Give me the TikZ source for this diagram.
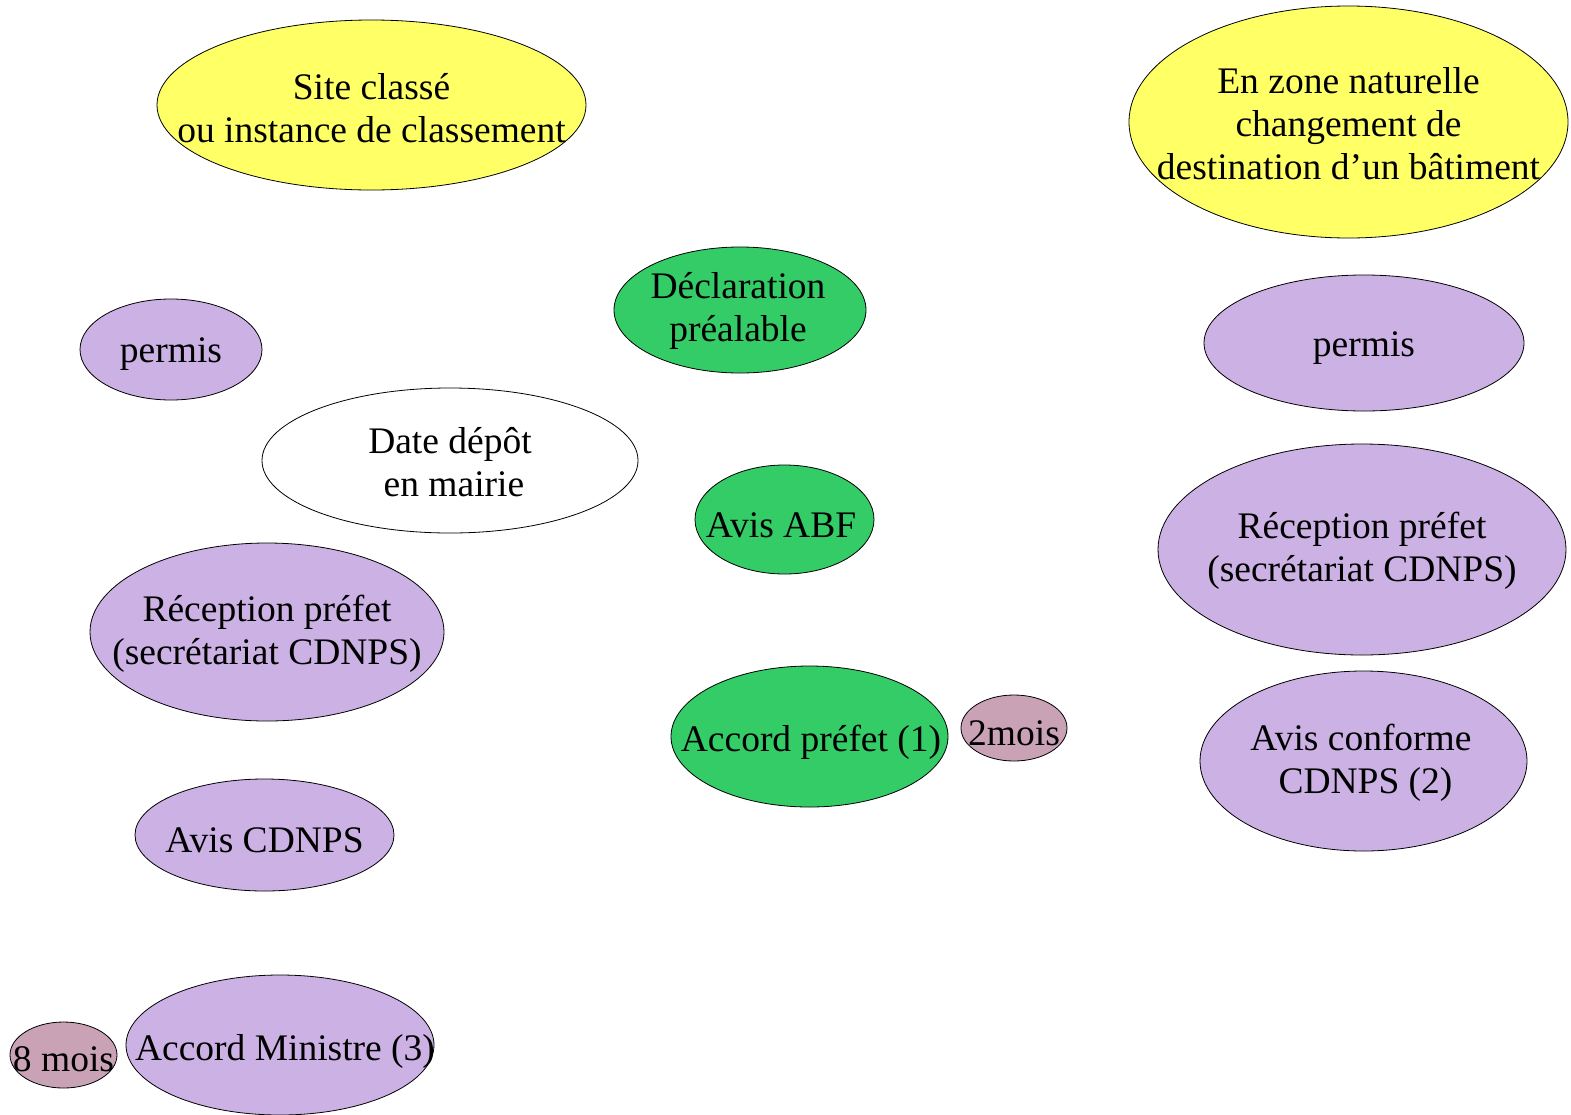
\documentclass[tikz,border=0pt]{standalone}
\usepackage{fontspec}
\setmainfont{Liberation Serif}
\usetikzlibrary{shapes.geometric}
\definecolor{cyel}{HTML}{FFFF66}
\definecolor{clav}{HTML}{CCB2E4}
\definecolor{cgrn}{HTML}{33CC66}
\definecolor{cmau}{HTML}{C9A2B6}
\tikzset{
  oval/.style={shape=ellipse, draw=black, line width=0.8pt, inner sep=0pt},
  txt/.style={align=center, inner sep=0pt, yshift=-4pt, font=\fontsize{37.5}{43}\selectfont},
  mtxt/.style={txt, yshift=4pt},
}
\begin{document}
\begin{tikzpicture}[x=1pt,y=-1pt]
\useasboundingbox (0,0) rectangle (1571,1114);
% ellipses
\node[oval, fill=cyel, minimum width=429, minimum height=170] (site) at (371.5,105) {};
\node[oval, fill=cyel, minimum width=439, minimum height=232] (zone) at (1348.5,122) {};
\node[oval, fill=cgrn, minimum width=252, minimum height=126] (decl) at (740,310) {};
\node[oval, fill=clav, minimum width=182, minimum height=101] (permisL) at (171,349.5) {};
\node[oval, fill=clav, minimum width=320, minimum height=136] (permisR) at (1364,343) {};
\node[oval, fill=white, minimum width=376, minimum height=145] (date) at (450,460.5) {};
\node[oval, fill=cgrn, minimum width=179, minimum height=109] (abf) at (784.5,519.5) {};
\node[oval, fill=clav, minimum width=354, minimum height=178] (recL) at (267,632) {};
\node[oval, fill=clav, minimum width=408, minimum height=211] (recR) at (1362,549.5) {};
\node[oval, fill=cgrn, minimum width=277, minimum height=141] (accP) at (809.5,736.5) {};
\node[oval, fill=cmau, minimum width=106, minimum height=66] (deux) at (1014,728) {};
\node[oval, fill=clav, minimum width=327, minimum height=180] (conf) at (1363.5,761) {};
\node[oval, fill=clav, minimum width=259, minimum height=112] (cdnps) at (264.5,835) {};
\node[oval, fill=cmau, minimum width=107, minimum height=66] (huit) at (63.5,1055) {};
\node[oval, fill=clav, minimum width=308, minimum height=140] (accM) at (280,1045) {};
% texts
\node[mtxt] (site-t) at (371.5,108) {Site classé\\ ou instance de classement};
\node[mtxt] (zone-t) at (1348.5,124) {En zone naturelle\\changement de\\destination d’un bâtiment};
\node[mtxt] (decl-t) at (738,311) {Déclaration\\ préalable};
\node[txt] (permisL-t) at (171,350) {permis};
\node[txt] (permisR-t) at (1364,344) {permis};
\node[mtxt] (date-t) at (450,462) {Date dépôt\\\hspace*{8pt}en mairie};
\node[txt] (abf-t) at (781,521) {Avis ABF};
\node[mtxt] (recL-t) at (267,634) {Réception préfet\\(secrétariat CDNPS)};
\node[mtxt] (recR-t) at (1362,551) {Réception préfet\\(secrétariat CDNPS)};
\node[txt] (accP-t) at (811,738) {Accord préfet (1)};
\node[txt] (deux-t) at (1014,729) {2mois};
\node[mtxt] (conf-t) at (1361,763) {Avis conforme\\\hspace*{9pt}CDNPS (2)};
\node[txt] (cdnps-t) at (264.5,836) {Avis CDNPS};
\node[txt] (huit-t) at (63.5,1055) {8 mois};
\node[txt] (accM-t) at (285,1047) {Accord Ministre (3)};
\end{tikzpicture}
\end{document}
